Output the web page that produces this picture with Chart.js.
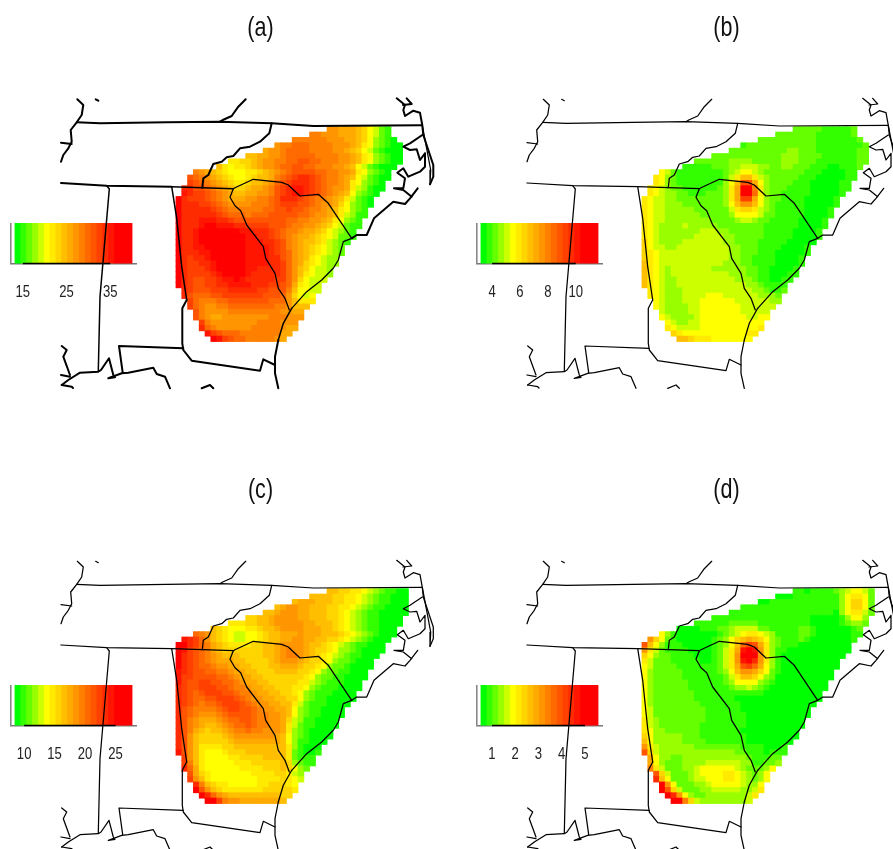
<!DOCTYPE html>
<html><head><meta charset="utf-8">
<script src="https://cdn.jsdelivr.net/npm/chart.js@4"></script>
<style>html,body{margin:0;padding:0;background:#fff;overflow:hidden;width:893px;height:849px}
#stage{position:relative;width:893px;height:849px;overflow:hidden}canvas{position:absolute}</style>
</head><body><div id="stage"></div>
<script>
// Colour key: 20 steps, green to yellow to red
const palette=['#00ff00','#33ff00','#66ff00','#99ff00','#ccff00','#ffff00','#ffea00','#ffd500','#ffbf00','#ffaa00','#ff9500','#ff8000','#ff6a00','#ff5500','#ff4000','#ff2b00','#ff1500','#ff0000','#ff0000','#ff0000'];
const titles=['(a)','(b)','(c)','(d)'];
const keyRanges=[[13.2,40],[3.2,11.6],[8.5,27.7],[0.53,5.56]];
const keyTicks=[[15,25,35],[4,6,8,10],[10,15,20,25],[1,2,3,4,5]];

// Grid footprint: first and last column of each of the 40 rows
const startAB=[26,23,20,17,15,12,9,7,3,2,2,1,1,0,0,0,0,0,0,0,0,0,0,0,0,0,0,0,0,0,1,1,2,2,3,3,4,4,5,6];
const lastAB=[36,36,37,38,38,38,38,37,36,36,35,35,34,33,33,32,32,31,31,30,30,29,28,28,27,27,26,26,25,24,24,23,23,22,21,21,20,20,19,18];
const startCD=[26,23,20,17,15,12,9,6,3,1,0,0,0,0,0,0,0,0,0,0,0,0,0,0,0,0,0,0,0,0,0,1,1,1,2,2,3,3,4,5];
const lastCD=[39,39,39,39,39,38,38,37,37,36,35,35,34,33,33,32,32,31,31,30,30,29,28,28,27,27,26,26,25,24,24,23,23,22,21,21,20,20,19,18];

// Key step for every cell, row by row
const stepsA=[
[10,10,9,9,9,8,7,5,4,2,1],
[11,11,10,10,10,9,9,9,8,7,5,4,2,1],
[11,11,11,11,11,11,10,10,10,9,9,8,7,5,3,2,1,0],
[10,11,11,12,12,12,11,11,11,11,10,10,10,9,8,6,5,3,2,1,0,0],
[9,10,10,11,12,12,12,12,11,11,11,11,10,10,9,8,7,5,4,2,1,0,0,0],
[8,8,9,9,10,10,11,12,12,12,12,12,11,11,11,11,10,10,9,8,6,5,3,2,1,0,0],
[6,6,7,7,8,9,10,10,11,11,12,12,13,13,12,12,11,11,11,10,10,9,8,6,5,3,2,1,0,0],
[8,6,5,6,6,7,8,9,10,10,11,12,12,13,13,12,12,11,11,11,10,10,9,8,5,4,2,1,0,0,0],
[11,10,9,8,7,6,5,5,5,6,6,7,8,9,10,11,12,13,13,13,13,12,12,11,11,10,10,9,6,5,3,2,1,0],
[13,12,11,10,9,8,7,6,5,5,6,7,8,8,9,11,12,13,14,15,15,14,13,12,11,11,10,9,8,5,4,2,1,0,0],
[14,13,12,11,10,9,8,7,6,6,7,8,8,9,10,12,13,14,15,15,15,14,13,12,11,11,10,9,6,5,3,2,1,0],
[15,15,13,13,12,11,10,9,8,7,7,8,9,9,10,11,13,14,15,16,16,15,14,13,12,11,10,10,9,6,4,3,1,0,0],
[16,15,14,14,13,12,11,10,9,8,8,9,9,10,10,11,13,14,15,16,16,15,14,13,12,11,10,9,8,5,3,2,1,0],
[17,15,14,14,14,13,12,11,10,9,9,9,10,10,11,11,12,13,15,15,15,14,13,12,11,11,10,9,8,6,4,2,1,0],
[17,15,15,15,14,14,13,12,11,10,10,10,10,11,11,11,12,13,14,14,14,13,13,12,11,10,10,9,7,5,3,2,1,0],
[17,15,15,15,15,15,14,13,12,11,11,11,11,11,11,12,12,13,13,14,13,13,12,11,11,10,9,8,6,5,3,2,1],
[17,15,15,15,15,15,15,14,13,12,12,12,11,12,12,12,13,13,13,13,13,12,12,11,10,10,9,8,6,4,3,1,1],
[18,15,15,15,16,16,16,15,15,14,13,13,13,13,13,13,13,13,13,12,12,11,11,10,10,9,8,6,5,3,2,1],
[18,15,15,15,16,17,17,16,16,16,15,15,14,14,14,14,13,13,13,12,11,11,10,10,9,8,7,5,4,2,1,1],
[18,15,15,16,17,17,17,18,18,17,17,16,16,15,15,15,14,13,12,11,11,10,9,9,8,7,5,4,3,2,1],
[18,15,15,16,17,18,19,19,19,19,18,18,16,16,15,15,14,13,12,11,10,9,9,8,7,6,5,4,2,2,1],
[18,15,15,16,17,18,19,19,19,19,19,18,16,16,16,15,15,14,13,11,10,9,8,8,7,6,4,3,2,1],
[18,15,15,16,16,17,18,19,19,19,19,18,16,16,16,16,15,14,13,11,10,9,8,7,6,5,4,3,2],
[18,15,15,15,16,16,17,18,19,19,19,18,16,16,16,16,15,14,13,12,10,9,8,7,6,5,4,3,2],
[18,15,14,15,15,16,17,18,19,19,19,18,16,16,16,16,15,15,13,12,10,9,8,6,5,4,3,3],
[18,15,14,14,15,15,16,17,18,19,18,18,16,16,16,16,15,15,14,12,10,9,7,6,5,4,3,3],
[18,15,14,14,14,15,16,17,18,18,18,17,16,16,15,15,15,15,14,12,10,8,7,5,4,4,3],
[18,15,14,14,14,14,15,16,17,18,18,17,16,15,15,15,15,15,14,12,10,8,6,5,4,4,3],
[18,15,14,13,13,14,14,15,16,16,17,16,15,15,15,15,15,14,14,12,10,7,5,4,4,4],
[17,15,14,13,13,14,14,15,15,16,16,16,16,15,15,15,14,14,13,12,9,6,5,4,4],
[15,14,13,13,13,14,14,14,15,15,15,15,15,14,14,13,13,13,11,8,5,5,4,4],
[15,13,12,12,12,13,13,14,14,14,14,14,14,14,13,13,13,12,10,7,5,4,5],
[14,12,11,11,11,12,12,13,13,13,13,13,13,13,12,12,12,10,8,6,6,6],
[14,12,11,10,10,11,11,12,12,12,12,12,12,12,12,11,11,10,8,8,8],
[13,11,10,10,10,10,11,11,11,11,11,11,11,11,11,10,10,9,9],
[13,11,10,9,9,10,10,10,10,10,10,10,10,11,11,11,10,10,10],
[14,11,10,10,10,10,10,10,10,10,11,11,11,11,10,10,10],
[15,12,11,10,10,10,10,10,10,11,11,11,11,11,10,9,9],
[16,14,13,12,12,12,11,11,11,11,11,11,11,9,9],
[17,16,14,13,12,12,11,11,11,11,11,10,9]];

const stepsB=[
[2,2,2,2,2,1,1,1,1,1,2],
[2,2,2,2,2,2,2,1,1,1,1,1,1,2],
[2,2,2,2,2,2,2,2,2,2,1,1,1,1,1,1,1,2],
[1,2,2,2,2,2,2,2,2,2,2,2,2,1,1,1,1,1,1,1,1,2],
[2,2,2,2,2,2,2,2,2,2,3,3,2,2,2,1,1,1,1,1,1,1,2,2],
[2,2,2,2,2,2,2,2,2,2,2,2,3,3,3,2,2,2,2,1,1,1,1,1,1,2,2],
[2,2,2,2,2,2,3,3,3,3,2,2,2,2,2,3,3,3,2,2,2,1,1,1,1,1,1,1,2,2],
[1,1,1,1,1,2,2,2,3,3,4,4,4,3,3,2,2,3,3,2,2,2,1,1,1,0,0,1,1,1,2],
[5,4,2,1,1,1,1,1,1,1,1,2,3,4,5,5,4,3,2,2,2,2,2,2,2,1,1,1,0,0,0,0,1,1],
[6,5,3,2,1,1,1,1,1,1,1,1,2,4,6,8,8,6,4,3,2,2,2,2,2,1,1,1,0,0,0,0,0,1,1],
[6,5,3,2,1,1,1,1,1,1,1,1,3,5,8,13,13,9,5,3,2,2,2,2,1,1,1,0,0,0,0,0,1,1],
[6,5,4,3,2,2,1,1,1,1,1,1,2,3,6,9,17,18,11,6,3,2,2,2,1,1,1,1,0,0,0,0,0,1,1],
[6,5,4,3,3,2,2,1,1,1,2,2,2,3,6,9,18,19,12,6,3,2,2,1,1,1,1,1,0,0,0,0,0,1],
[6,5,4,4,3,3,2,2,2,2,2,2,2,2,3,6,9,14,14,9,5,3,2,2,1,1,1,1,0,0,0,0,0,1],
[6,5,4,4,3,3,3,2,2,2,2,2,2,2,3,5,8,10,10,8,5,3,2,1,1,1,1,1,0,0,0,0,0,1],
[6,5,4,4,3,3,3,3,3,2,2,2,2,2,2,4,6,7,7,6,4,3,2,1,1,1,1,1,0,0,0,0,1],
[6,5,4,4,3,3,3,3,3,3,2,2,2,2,2,3,5,5,5,5,4,2,2,1,1,1,1,1,0,0,0,0,1],
[6,5,4,4,3,3,3,3,3,3,3,3,2,2,2,2,3,4,4,3,2,2,1,1,1,1,1,0,0,0,0,1],
[6,5,4,3,3,3,3,4,3,3,3,3,3,2,2,2,2,2,2,2,2,1,1,1,1,1,1,0,0,0,0,1],
[6,5,4,3,3,3,3,3,3,3,4,4,4,3,3,2,2,2,2,2,2,1,1,1,1,1,0,0,0,0,1],
[6,5,4,3,3,3,3,3,3,4,4,4,4,4,3,3,2,2,2,2,2,1,1,1,1,1,0,0,0,0,1],
[7,5,4,3,3,3,3,4,4,4,4,4,4,4,3,3,2,2,2,2,1,1,1,1,1,0,0,0,0,0],
[7,5,4,4,3,3,4,4,4,4,4,4,4,4,4,3,3,2,2,2,1,1,1,1,0,0,0,0,1],
[7,6,5,4,4,4,4,4,4,4,4,4,4,4,4,3,3,2,2,2,1,1,1,0,0,0,0,0,1],
[7,6,5,4,4,4,4,4,4,4,4,4,4,4,4,3,3,2,2,1,1,1,1,0,0,0,0,1],
[8,6,5,4,4,4,4,4,4,4,4,4,4,4,3,3,3,2,2,1,1,1,1,0,0,0,0,1],
[8,6,5,4,3,4,4,4,4,4,4,4,3,3,3,3,3,3,2,2,1,1,0,0,0,0,1],
[8,6,5,4,3,4,4,4,4,4,4,4,4,4,4,3,3,3,2,2,1,1,0,0,0,1,1],
[8,6,5,4,3,3,4,4,4,4,4,4,4,4,4,4,3,3,3,2,1,1,0,0,1,1],
[8,6,5,4,3,3,4,4,4,4,4,4,4,4,4,4,4,4,3,3,2,1,1,1,1],
[6,5,4,3,3,3,4,4,4,4,4,4,4,4,4,4,4,4,3,3,2,1,1,2],
[6,5,4,3,3,3,4,4,4,4,5,5,5,4,4,4,4,4,4,3,3,3,2],
[5,4,3,3,3,4,4,4,5,5,5,5,5,5,4,4,4,4,4,4,3,3],
[5,4,3,3,3,3,4,4,5,5,5,5,5,5,5,4,4,4,4,4,4],
[4,3,3,3,3,4,4,5,5,5,5,5,5,5,4,4,4,4,4],
[5,4,3,3,3,3,4,5,5,5,5,5,5,5,5,4,4,5,5],
[5,4,3,3,4,4,5,5,5,5,5,5,5,5,5,5,5],
[6,5,4,4,4,4,5,5,5,5,5,5,5,5,5,5,6],
[7,6,5,5,5,5,5,5,5,5,5,5,5,6,6],
[8,8,7,6,6,6,5,5,5,5,5,5,5]];

const stepsC=[
[8,8,7,7,6,6,5,4,3,2,1,1,0,0],
[8,8,8,8,7,7,6,6,5,4,3,2,1,1,0,0,0],
[8,9,9,9,8,8,8,7,7,6,6,5,4,3,2,1,1,0,0,0],
[8,9,10,10,9,9,8,8,8,7,7,6,6,5,4,3,2,1,1,0,0,0,0],
[8,8,9,10,10,10,9,9,8,8,8,7,7,6,5,4,3,2,1,1,0,0,0,0,0],
[7,7,8,8,9,10,10,10,10,9,9,8,8,8,7,7,6,5,4,3,2,1,1,0,0,0,0],
[6,6,6,7,7,8,8,9,10,10,10,10,10,9,9,8,8,8,7,6,5,4,3,2,1,1,0,0,0,0],
[8,7,6,5,5,5,6,6,7,8,8,9,10,10,10,10,9,9,9,8,8,7,6,5,4,3,2,1,1,0,0,0],
[12,11,10,8,7,6,5,4,4,5,5,6,7,8,8,9,9,9,10,9,9,9,8,8,8,7,6,5,4,3,2,1,0,0,0],
[16,15,14,12,10,8,7,6,5,4,4,5,5,6,7,8,8,9,9,10,10,9,9,8,8,7,7,6,5,4,3,2,1,0,0,0],
[19,17,15,14,12,11,9,8,7,6,6,6,6,7,7,8,8,9,10,10,10,10,9,8,8,7,6,5,4,3,2,1,1,0,0,0],
[18,16,14,13,12,11,9,8,7,7,7,7,7,7,7,8,8,9,10,11,10,10,9,8,7,7,6,5,3,3,2,1,0,0,0,0],
[18,15,14,13,12,11,10,9,8,8,8,7,7,7,7,8,8,9,10,11,11,10,9,8,7,6,5,4,3,2,1,1,0,0,0],
[17,15,14,13,12,11,10,9,9,9,8,8,7,7,7,7,8,9,10,10,10,9,8,7,7,6,5,3,2,2,1,0,0,0],
[17,15,14,13,12,12,11,10,10,9,9,8,8,7,7,7,8,8,9,9,9,8,7,7,6,5,3,2,2,1,0,0,0,0],
[16,15,14,13,13,12,12,11,11,10,9,9,8,8,7,7,7,8,8,8,8,7,7,6,5,3,2,2,1,1,0,0,0],
[16,14,14,13,13,13,13,12,12,11,10,9,9,8,8,7,7,7,7,7,7,7,6,5,3,2,2,1,1,0,0,0,0],
[16,14,13,13,14,14,13,13,12,12,11,10,9,9,8,8,7,7,7,7,7,6,6,4,3,2,1,1,1,0,0,0],
[15,14,13,13,14,14,14,13,13,12,11,11,10,9,9,8,8,7,7,7,6,6,5,3,2,1,1,1,0,0,0,0],
[15,14,13,12,13,14,14,14,13,13,12,11,11,10,9,9,8,8,7,7,6,5,3,2,1,1,1,0,0,0,0],
[15,14,13,12,12,13,13,14,14,14,13,12,11,10,10,9,9,8,8,7,7,5,3,2,1,1,0,0,0,0,0],
[15,14,13,12,11,12,12,13,14,14,14,13,12,11,10,10,9,9,8,8,6,4,2,1,1,1,0,0,0,0],
[15,13,12,11,11,11,11,12,13,14,14,13,13,12,11,10,10,9,9,8,5,3,2,1,1,0,0,0,0],
[15,13,12,11,10,10,10,11,12,13,13,13,13,12,11,11,10,10,9,8,5,3,2,1,1,0,0,0,0],
[15,13,11,10,9,9,9,10,11,12,12,13,13,12,11,11,10,10,9,7,4,3,1,1,0,0,0,0],
[15,13,11,10,9,8,8,9,10,11,12,12,13,12,11,11,10,10,9,6,4,2,1,1,0,0,0,0],
[15,13,11,9,8,7,8,8,9,10,11,11,12,11,11,10,10,10,9,6,3,2,1,0,0,0,0],
[15,13,10,8,7,7,7,7,8,9,10,10,10,10,10,10,10,9,8,5,3,2,1,0,0,0,0],
[15,13,10,8,7,7,7,7,7,8,9,9,9,9,9,9,9,9,8,5,3,1,1,0,0,0],
[15,13,10,8,6,6,6,6,7,7,8,8,8,8,8,8,8,8,8,6,3,1,0,0,0],
[16,13,10,8,6,5,5,5,6,7,7,7,8,8,8,8,8,8,8,6,2,1,0,0,1],
[14,10,8,6,5,5,5,5,6,6,7,7,7,7,8,8,8,8,6,2,1,1,1],
[14,11,8,6,5,5,5,5,5,6,6,6,7,7,7,7,7,8,7,3,2,1,1],
[15,12,9,6,5,5,5,5,5,5,6,6,6,6,7,7,7,8,7,5,3,2],
[13,9,7,6,5,5,5,5,5,5,5,6,6,6,6,7,7,6,4,3],
[14,10,8,6,5,5,5,5,5,5,5,5,6,6,6,6,7,6,5,4],
[15,11,8,7,6,6,5,5,5,5,5,6,6,7,7,7,6,5],
[17,13,10,8,7,6,6,6,6,6,6,6,7,7,7,7,7,6],
[18,15,12,10,9,8,8,8,8,8,8,8,8,8,7,7],
[19,17,14,11,10,10,9,9,9,9,9,9,9,8]];

const stepsD=[
[1,1,0,1,1,1,1,2,3,4,5,5,4,2],
[0,0,0,1,1,1,1,1,1,1,1,3,5,6,6,5,2],
[0,0,1,1,1,1,1,1,1,1,1,1,1,1,3,5,7,7,5,2],
[1,1,1,1,1,1,1,1,1,1,1,1,1,1,1,1,1,3,5,7,7,5,2],
[1,1,1,1,1,1,1,1,1,1,1,1,1,1,1,1,1,1,0,3,5,6,6,4,2],
[1,1,1,1,1,1,1,1,1,1,1,1,1,1,1,1,1,0,0,0,0,0,1,3,5,5,3],
[1,1,1,1,1,1,2,2,2,2,2,1,1,1,1,1,1,1,1,1,0,0,0,0,0,1,2,3,3,2],
[0,0,0,0,1,1,1,2,2,3,4,4,4,4,2,2,1,1,1,1,1,2,2,1,0,0,0,0,0,0,1,2],
[5,3,1,0,0,0,0,0,0,0,1,2,3,4,5,6,6,5,4,3,1,1,1,1,2,2,1,0,0,0,0,0,0,1,1],
[10,7,5,2,1,0,0,0,0,0,0,1,2,3,5,7,8,9,8,7,5,3,2,1,1,1,2,1,0,0,0,0,0,0,0,1],
[13,8,5,3,1,1,1,0,0,0,0,0,1,2,3,5,8,12,14,13,9,6,3,2,1,1,1,0,0,0,0,0,0,0,0,0],
[10,6,4,2,1,1,1,1,0,0,0,0,1,2,4,6,9,16,18,16,10,6,3,1,1,0,0,0,0,0,0,0,0,0,0,0],
[7,5,3,2,2,1,1,1,1,0,0,0,1,2,4,6,10,18,19,17,10,6,3,1,0,0,0,0,0,0,0,0,0,0,0],
[6,4,2,2,2,1,1,1,1,1,0,0,1,2,4,6,10,16,19,15,10,6,3,1,0,0,0,0,0,0,0,0,0,0],
[5,4,2,2,2,2,1,1,1,1,1,1,1,2,4,6,9,13,14,12,9,5,3,1,0,0,0,0,0,0,0,0,0,0],
[5,3,2,2,2,2,2,1,1,1,1,1,1,2,3,5,8,10,10,9,7,5,2,1,0,0,0,0,0,0,0,0,0],
[5,3,2,2,2,2,2,1,1,1,1,1,1,1,2,4,6,8,8,7,5,3,2,0,0,0,0,0,0,0,0,0,0],
[5,3,2,2,2,2,2,2,1,1,1,1,1,1,2,3,5,5,5,5,3,2,1,0,0,0,0,0,0,0,0,0],
[5,3,2,2,2,2,2,2,1,1,1,1,1,1,1,2,3,3,4,3,2,1,0,0,0,0,0,0,0,0,0,0],
[5,3,2,2,2,2,2,2,2,1,1,1,1,1,1,1,1,1,1,1,1,0,0,0,0,0,0,0,0,0,0],
[5,3,2,2,2,2,2,2,2,1,1,1,1,1,1,1,0,0,0,0,0,0,0,0,0,0,0,0,0,0,0],
[5,3,2,2,2,2,2,2,2,2,1,1,1,1,1,1,1,0,0,0,0,0,0,0,0,0,0,0,0,0],
[5,4,2,2,2,2,2,2,2,2,2,1,1,1,1,1,1,0,0,0,0,0,0,0,0,0,0,0,0],
[5,4,2,2,2,2,2,2,2,2,2,1,1,1,1,1,1,1,0,0,0,0,0,0,0,0,0,0,0],
[6,4,3,2,2,2,2,2,2,2,2,1,1,1,1,1,1,1,0,0,0,0,0,0,0,0,0,0],
[6,4,3,2,2,2,2,2,2,2,1,1,1,1,1,1,1,1,0,0,0,0,0,0,0,0,0,0],
[6,5,3,3,2,2,2,2,2,2,1,1,1,1,1,1,1,0,0,0,0,0,0,0,0,0,0],
[7,5,3,3,3,3,3,2,2,2,1,1,1,1,1,1,1,1,0,0,0,0,0,0,0,0,0],
[8,5,3,3,3,3,3,2,2,2,2,1,1,1,1,1,1,1,0,0,0,0,0,0,0,0],
[10,6,4,3,3,3,3,3,3,2,2,2,2,2,2,2,2,1,1,1,1,0,0,0,1],
[13,7,4,3,3,3,3,3,3,3,3,3,3,3,3,3,2,2,1,1,1,0,1,1,1],
[9,5,3,3,2,2,3,3,3,3,3,3,3,3,3,3,3,2,1,1,1,2,2],
[9,5,3,2,2,2,3,3,3,3,4,4,4,4,4,4,3,3,1,1,2,2,3],
[11,6,4,2,2,2,3,3,4,5,5,5,5,5,5,4,3,2,2,2,3,5],
[13,7,4,2,2,2,3,4,5,5,5,5,6,6,5,4,3,2,3,5],
[15,8,5,2,2,2,3,4,4,5,5,5,6,6,5,4,3,2,3,5],
[17,10,5,2,2,2,3,3,4,5,5,5,5,5,4,3,3,5],
[19,13,7,4,2,2,2,3,3,4,4,4,4,4,3,3,4,6],
[19,15,10,5,3,2,2,3,3,3,3,3,3,3,4,6],
[19,17,11,7,4,3,3,3,3,3,3,3,3,4]];

// State lines and coast: [east, south] in map units
const northBorder=[[76.7,122.3],[100,123.3],[166.7,122.3],[220,121.7],[271.7,123.3],[313.3,126],[421.7,125.3]];
const riverNorth=[[77.3,99.3],[83.3,105],[81.7,115],[76.7,122.3],[70.7,130],[71.7,141.7],[68.3,148.3],[63.3,155],[61,161.7]];
const riverStub=[[61,142.7],[71.7,144]];
const riverDot=[[95.7,99.3],[98.3,100.7]];
const tnVaBranch=[[220,121.7],[222.7,120],[231.7,116],[238.3,106.7],[245.7,99.3]];
const tnNcBorder=[[271.7,123.3],[269.3,133.3],[260,141.7],[250,146.7],[240,148.3],[233.3,156],[226.7,157.3],[221.7,161.7],[213.3,164],[208.3,175],[203.3,178.3],[202.3,187.7]];
const southWest=[[61,183],[106.7,185.7],[171.7,186.7]];
const southEast=[[171.7,186.7],[233.3,188.7]];
const ncScBorder=[[233.3,188.7],[235,187.7],[253.3,179.3],[281.7,182.3],[288.3,185],[300,196],[318.3,194.3],[328.3,203.3],[351.7,238.3]];
const gaScBorder=[[233.3,188.7],[230,197.3],[235,205.7],[240.7,210.7],[246.7,225],[263.3,246.7],[265.7,258.3],[275,273.3],[278.3,288.3],[285,298.3],[289.3,310]];
const gaCoastNorth=[[278.3,340],[283.3,323.3],[291.7,308.3]];
const scCoast=[[291.7,308.3],[306.7,291.7],[321.7,280],[333.3,268.3],[338.3,260],[343.3,241.7],[351.7,238.3]];
const ncCoast=[[351.7,238.3],[356.7,235],[366.7,235],[374,218.3],[393.3,201.7],[405,204],[410,198.3],[417.7,188.3]];
const gaCoast=[[278.3,340],[275,356.7],[275,373.3],[278.3,388.3]];
const alGaBorder=[[171.7,186.7],[176.7,218.3],[181.7,266.7],[186.7,300]];
const gaFlBorder=[[186.7,300],[182.3,308.3],[182.3,343.3],[183.3,350],[191.7,360.7],[260,370.7],[263.3,359.3],[275,365]];
const alFlBorder=[[122.7,372.7],[119,346],[183.3,348.3]];
const msAlBorder=[[106.7,185.7],[109.3,189],[100,296.7],[98.3,370.7]];
const gulfInlet=[[61.7,346],[66.7,350],[63.3,356.7],[70,375]];
const gulfCoast=[[61,375],[70,376.7]];
const gulfShore=[[61.7,385],[68.3,380],[80,372.7],[98.3,371.7],[101,370],[109,358.3],[113.3,375],[115,377.3],[108.3,378.3],[121.7,373.3],[128.3,372.7],[153.3,367.7],[156.7,374],[165,376.7],[170,388.3]];
const gulfBit=[[61.7,385],[71.7,386.7],[73,388]];
const gulfBit2=[[201.7,388.3],[210,385],[213.3,388.3]];
const atlantic=[[396.7,98.3],[405,105],[403.3,110],[405,116],[413.3,110.7],[420,112.7],[422.3,125.3],[423.3,135],[433.3,165],[433.3,176.7],[430,184.3]];
const atlanticInner=[[422.3,125.3],[430.7,170],[430,184.3]];
const atlanticLoop=[[406.7,98.3],[411.7,104],[403,105]];
const sounds=[[422.3,135],[410,143.3],[403.3,146.7],[410,150],[416.7,149.3],[420,160],[425,153.3],[425,166.7],[420,171.7],[408.3,176.7],[403.3,168.3],[397.3,172.7],[405,178.3],[403.3,188.3],[394,188.3],[403.3,190],[411.7,196.7]];

const heavyLines=[northBorder,riverNorth,riverStub,riverDot,tnVaBranch,tnNcBorder,southWest,gaFlBorder,alFlBorder,gaCoast,gulfInlet,gulfCoast,gulfShore,gulfBit,gulfBit2,atlantic,atlanticLoop,sounds,ncCoast];
const mediumLines=[msAlBorder,alGaBorder,southEast,gaCoastNorth];
const allLines=[northBorder,riverNorth,riverStub,riverDot,tnVaBranch,tnNcBorder,southWest,southEast,ncScBorder,gaScBorder,gaCoastNorth,scCoast,ncCoast,gaCoast,alGaBorder,gaFlBorder,alFlBorder,msAlBorder,gulfInlet,gulfCoast,gulfShore,gulfBit,gulfBit2,atlantic,atlanticInner,atlanticLoop,sounds];

const panelSteps=[stepsA,stepsB,stepsC,stepsD];
const panelStarts=[startAB,startAB,startCD,startCD];
const panelLasts=[lastAB,lastAB,lastCD,lastCD];
const panelOrigins=[[0,0],[466,0],[0,462],[466,462]];
const gridLeft=176, gridTop=126.7, colW=5.81, rowH=5.37;
const textFont='"Liberation Sans",Arial,sans-serif', squeeze=0.77;
const stage=document.getElementById('stage');

function addCanvas(left,top,w,h){
  const c=document.createElement('canvas');
  c.width=w;c.height=h;c.style.left=left+'px';c.style.top=top+'px';c.style.width=w+'px';c.style.height=h+'px';
  stage.appendChild(c);return c;
}
function squeezedText(ctx,text,px,py,size,color){
  ctx.save();ctx.translate(px,py);ctx.scale(squeeze,1);
  ctx.fillStyle=color;ctx.font=size+'px '+textFont;ctx.textAlign='center';ctx.textBaseline='middle';
  ctx.fillText(text,0,0);ctx.restore();
}
const titlePlugin={id:'panelTitle',afterDraw(chart,args,opts){
  const {ctx,scales:{x,y}}=chart;
  squeezedText(ctx,opts.text,x.getPixelForValue(260.5),y.getPixelForValue(28.5),28,'#111');
}};
const keyLabelPlugin={id:'keyLabels',afterDraw(chart,args,opts){
  const {ctx,scales:{x},chartArea}=chart;
  opts.values.forEach(v=>squeezedText(ctx,String(v),x.getPixelForValue(v),chartArea.bottom+28.5,17,'#222'));
}};

panelSteps.forEach((steps,p)=>{
  const [ox,oy]=panelOrigins[p];
  const [lo,hi]=keyRanges[p];
  const pad=(hi-lo)*4/117, bw=(hi-lo)/20;
  const keyBars=palette.map((c,i)=>({x:lo+(i+0.5)*bw,y:1}));
  new Chart(addCanvas(ox+10,oy+223,127,85),{
    plugins:[keyLabelPlugin],
    data:{datasets:[
      {type:'line',data:[{x:keyTicks[p][0],y:0},{x:keyTicks[p][keyTicks[p].length-1],y:0}],borderColor:'#000',borderWidth:1.4,pointRadius:0,clip:false,order:0},
      {type:'bar',data:keyBars,backgroundColor:palette,barPercentage:1,categoryPercentage:1,inflateAmount:0.4,order:1}
    ]},
    options:{responsive:false,animation:false,events:[],
      layout:{padding:{left:1,right:1,top:0,bottom:0}},
      plugins:{legend:{display:false},tooltip:{enabled:false},keyLabels:{values:keyTicks[p]}},
      scales:{
        x:{type:'linear',offset:false,min:lo-pad,max:hi+pad,grid:{display:false,drawTicks:false},
           border:{display:true,color:'#777',width:1.4},
           ticks:{display:false},
           afterFit:a=>{a.height=44.5;}},
        y:{min:0,max:1,grid:{display:false,drawTicks:false},border:{display:true,color:'#888',width:1.6},
           ticks:{display:false},afterFit:a=>{a.width=0;}}
      }}
  });
  const cells=[];
  steps.forEach((row,r)=>{
    const s=panelStarts[p][r], l=panelLasts[p][r];
    for(let c=s;c<=l;c++){
      const k=row[c-s]!==undefined?row[c-s]:row[row.length-1];
      cells.push({x:gridLeft+colW*(c+0.5),y:[gridTop+rowH*r,gridTop+rowH*(r+1)],step:k});
    }
  });
  const lineSets=allLines.map(line=>{
    let w=1.25;
    if(p===0){ if(heavyLines.includes(line)) w=2; else if(mediumLines.includes(line)) w=1.5; }
    return {type:'line',data:line.map(q=>({x:q[0],y:q[1]})),borderColor:'#000',borderWidth:w,pointRadius:0,tension:0,borderJoinStyle:'round',borderCapStyle:'round',order:0};
  });
  new Chart(addCanvas(ox,oy,466,462),{
    plugins:[titlePlugin],
    data:{datasets:[
      {type:'bar',data:cells,backgroundColor:cells.map(d=>palette[d.step]),barPercentage:1,categoryPercentage:1,inflateAmount:0.4,order:1},
      ...lineSets
    ]},
    options:{responsive:false,animation:false,events:[],
      layout:{padding:0},
      plugins:{legend:{display:false},tooltip:{enabled:false},panelTitle:{text:titles[p]}},
      scales:{
        x:{type:'linear',display:false,offset:false,min:0,max:466},
        y:{type:'linear',display:false,reverse:true,min:0,max:462}
      }}
  });
});
</script></body></html>
